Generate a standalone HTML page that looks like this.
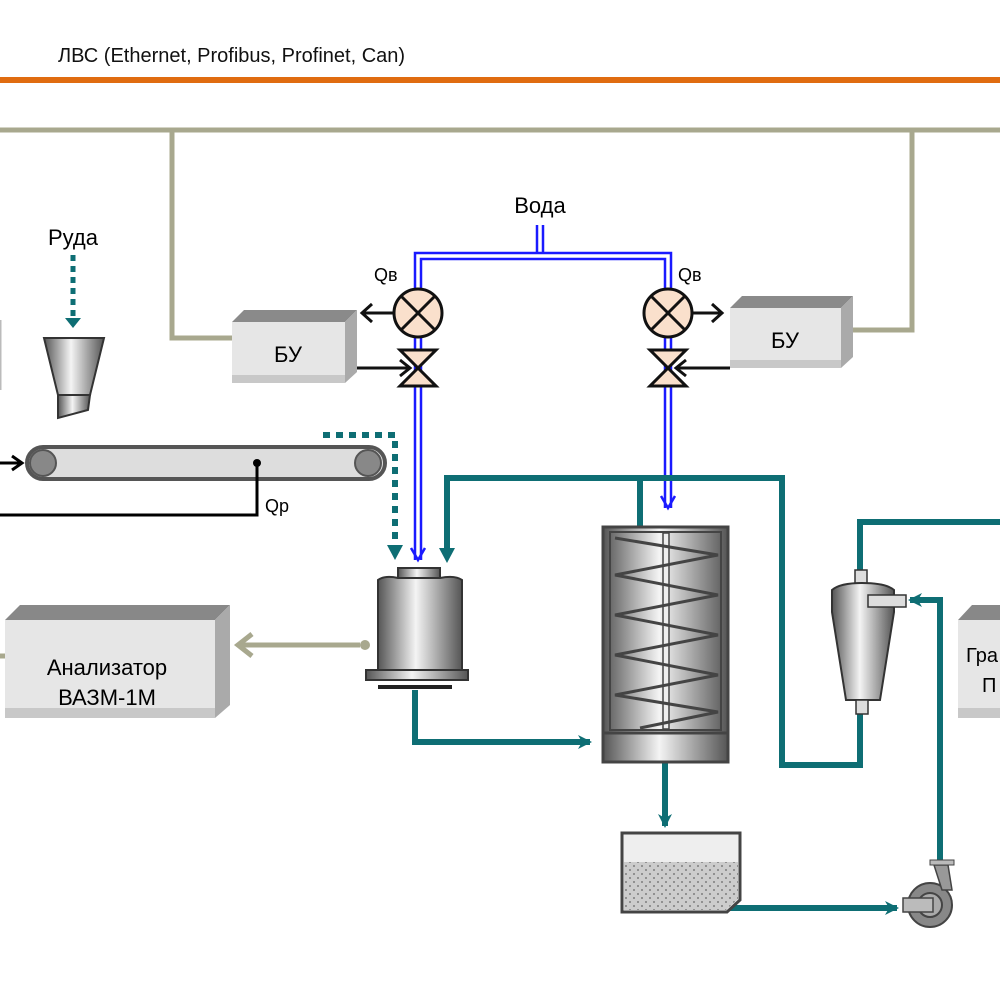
<!DOCTYPE html>
<html><head><meta charset="utf-8"><style>body{margin:0;background:#fff}svg{display:block}text{font-family:"Liberation Sans",sans-serif}</style></head><body>
<svg width="1000" height="1000" viewBox="0 0 1000 1000" xmlns="http://www.w3.org/2000/svg">
<defs>
<linearGradient id="cyl" x1="0" x2="1"><stop offset="0" stop-color="#555"/><stop offset="0.45" stop-color="#f4f4f4"/><stop offset="1" stop-color="#555"/></linearGradient>
<pattern id="dots" width="8" height="8" patternUnits="userSpaceOnUse"><rect width="8" height="8" fill="#ccc"/><circle cx="2" cy="2" r="0.9" fill="#666"/><circle cx="6" cy="6" r="0.9" fill="#666"/></pattern>
<marker id="ta" markerWidth="16" markerHeight="16" refX="12" refY="8" orient="auto" markerUnits="userSpaceOnUse"><path d="M0,1 L14,8 L0,15 L4,8 Z" fill="#0e6e74"/></marker>
</defs>
<text x="58" y="62" font-size="20" fill="#111">ЛВС (Ethernet, Profibus, Profinet, Can)</text>
<rect x="0" y="77" width="1000" height="6" fill="#e06c10"/>
<g fill="none" stroke="#a8a88e" stroke-width="5">
<path d="M0,130 H1000"/><path d="M172,130 V338 H232"/><path d="M912,130 V330 H852"/>
<path d="M360,645 H240"/><path d="M252,634 L238,645 L252,656"/>
<path d="M0,656 H5"/>
</g>
<circle cx="365" cy="645" r="5" fill="#a8a88e"/>
<polygon points="232,322 244,310 357,310 345,322" fill="#8a8a8a"/>
<polygon points="345,322 357,310 357,372 345,383" fill="#aaa"/>
<rect x="232" y="322" width="113" height="61" fill="#e6e6e6"/><rect x="232" y="375" width="113" height="8" fill="#c8c8c8"/>
<text x="288" y="362" font-size="22" text-anchor="middle">БУ</text>
<polygon points="730,308 742,296 853,296 841,308" fill="#8a8a8a"/>
<polygon points="841,308 853,296 853,357 841,368" fill="#aaa"/>
<rect x="730" y="308" width="111" height="60" fill="#e6e6e6"/><rect x="730" y="360" width="111" height="8" fill="#c8c8c8"/>
<text x="785" y="348" font-size="22" text-anchor="middle">БУ</text>
<polygon points="5,620 20,605 230,605 215,620" fill="#888"/>
<polygon points="215,620 230,605 230,705 215,718" fill="#aaa"/>
<rect x="5" y="620" width="210" height="98" fill="#e6e6e6"/><rect x="5" y="708" width="210" height="10" fill="#c8c8c8"/>
<text x="107" y="675" font-size="22" text-anchor="middle">Анализатор</text>
<text x="107" y="705" font-size="22" text-anchor="middle">ВАЗМ-1М</text>
<polygon points="958,620 972,605 1000,605 1000,620" fill="#888"/>
<rect x="958" y="620" width="42" height="98" fill="#e6e6e6"/><rect x="958" y="708" width="42" height="10" fill="#c8c8c8"/>
<text x="966" y="662" font-size="20">Гра</text><text x="982" y="692" font-size="20">П</text>
<text x="540" y="213" font-size="22" text-anchor="middle">Вода</text>
<g stroke="#1a1aff" stroke-width="2.5" fill="none">
<path d="M537,225 V253"/><path d="M543,225 V253"/>
<path d="M415,560 V253 H671 V508"/><path d="M421,560 V259 H665 V508"/>
<path d="M411,548 L418,560 L425,548"/><path d="M661,496 L668,508 L675,496"/>
</g>
<g stroke="#111" stroke-width="3">
<circle cx="418" cy="313" r="24" fill="#fae0cc"/><path d="M401,296 L435,330 M435,296 L401,330"/>
<circle cx="668" cy="313" r="24" fill="#fae0cc"/><path d="M651,296 L685,330 M685,296 L651,330"/>
<polygon points="400,350 436,350 400,386 436,386" fill="#fae0cc"/>
<polygon points="650,350 686,350 650,386 686,386" fill="#fae0cc"/>
<path d="M394,313 H362 M372,304 L362,313 L372,322" fill="none"/>
<path d="M692,313 H722 M712,304 L722,313 L712,322" fill="none"/>
<path d="M357,368 H410 M400,360 L410,368 L400,376" fill="none"/>
<path d="M730,368 H676 M686,360 L676,368 L686,376" fill="none"/>
</g>
<text x="374" y="281" font-size="18">Qв</text><text x="678" y="281" font-size="18">Qв</text>
<text x="73" y="245" font-size="22" text-anchor="middle">Руда</text>
<path d="M73,255 V318" stroke="#0e6e74" stroke-width="5" stroke-dasharray="6,5"/>
<polygon points="65,318 81,318 73,328" fill="#0e6e74"/>
<polygon points="44,338 104,338 90,395 58,395" fill="url(#cyl)" stroke="#333" stroke-width="2"/>
<polygon points="58,395 90,395 88,410 58,418" fill="url(#cyl)" stroke="#333" stroke-width="2"/>
<rect x="27" y="447" width="358" height="32" rx="16" fill="#ddd" stroke="#555" stroke-width="4"/>
<circle cx="43" cy="463" r="13" fill="#888" stroke="#555" stroke-width="2"/>
<circle cx="368" cy="463" r="13" fill="#888" stroke="#555" stroke-width="2"/>
<path d="M0,463 H20 M12,456 L22,463 L12,470" stroke="#000" stroke-width="3" fill="none"/>
<circle cx="257" cy="463" r="4" fill="#000"/>
<path d="M257,463 V515 H0" stroke="#000" stroke-width="3" fill="none"/>
<text x="265" y="512" font-size="18">Qp</text>
<path d="M0,320 V390" stroke="#bbb" stroke-width="3"/>
<path d="M323,435 H395 V548" stroke="#0e6e74" stroke-width="6" stroke-dasharray="7,6" fill="none"/>
<polygon points="387,545 403,545 395,560" fill="#0e6e74"/>
<g stroke="#0e6e74" stroke-width="6" fill="none">
<path d="M447,555 V478 H782 V765 H860 V712"/>
<path d="M640,478 V527"/>
<path d="M860,580 V522 H1000"/>
<path d="M415,690 V742 H590" marker-end="url(#ta)"/>
<path d="M665,762 V826" marker-end="url(#ta)"/>
<path d="M730,908 H897" marker-end="url(#ta)"/>
<path d="M940,860 V600 H910" marker-end="url(#ta)"/>
</g>
<polygon points="439,548 455,548 447,563" fill="#0e6e74"/>
<rect x="398" y="568" width="42" height="12" fill="url(#cyl)" stroke="#333" stroke-width="2"/>
<path d="M378,580 Q385,575 398,578 H440 Q455,575 462,580 V670 H378 Z" fill="url(#cyl)" stroke="#333" stroke-width="2"/>
<rect x="366" y="670" width="102" height="10" fill="url(#cyl)" stroke="#333" stroke-width="2"/>
<rect x="378" y="685" width="74" height="4" fill="#222"/>
<rect x="603" y="527" width="125" height="235" fill="url(#cyl)" stroke="#444" stroke-width="3"/>
<rect x="610" y="532" width="111" height="198" fill="none" stroke="#444" stroke-width="2"/>
<line x1="603" y1="733" x2="728" y2="733" stroke="#444" stroke-width="3"/>
<rect x="663" y="533" width="6" height="196" fill="#eee" stroke="#444" stroke-width="1.5"/>
<path d="M615,538 L718,555 L615,575 L718,595 L615,615 L718,635 L615,655 L718,675 L615,695 L718,712 L640,728" stroke="#444" stroke-width="3" fill="none"/>
<rect x="855" y="570" width="12" height="16" fill="#ddd" stroke="#333" stroke-width="1.5"/>
<path d="M832,590 Q840,583 862,583 Q886,583 894,590 V612 L880,700 H846 L832,612 Z" fill="url(#cyl)" stroke="#333" stroke-width="2"/>
<rect x="868" y="595" width="38" height="12" fill="#ddd" stroke="#333" stroke-width="1.5"/>
<rect x="856" y="700" width="12" height="14" fill="#ddd" stroke="#333" stroke-width="1.5"/>
<path d="M622,833 H740 V900 L727,912 H622 Z" fill="#eee" stroke="#444" stroke-width="3"/>
<path d="M624,862 H738 V899 L726,910 H624 Z" fill="url(#dots)"/>
<circle cx="930" cy="905" r="22" fill="#888" stroke="#444" stroke-width="2"/>
<circle cx="930" cy="905" r="12" fill="#aaa" stroke="#444" stroke-width="2"/>
<rect x="903" y="898" width="30" height="14" fill="#bbb" stroke="#444" stroke-width="1.5"/>
<path d="M934,865 H948 L952,890 L942,890 Z" fill="#999" stroke="#444" stroke-width="1.5"/>
<rect x="930" y="860" width="24" height="5" fill="#bbb" stroke="#444" stroke-width="1"/>
</svg>
</body></html>
